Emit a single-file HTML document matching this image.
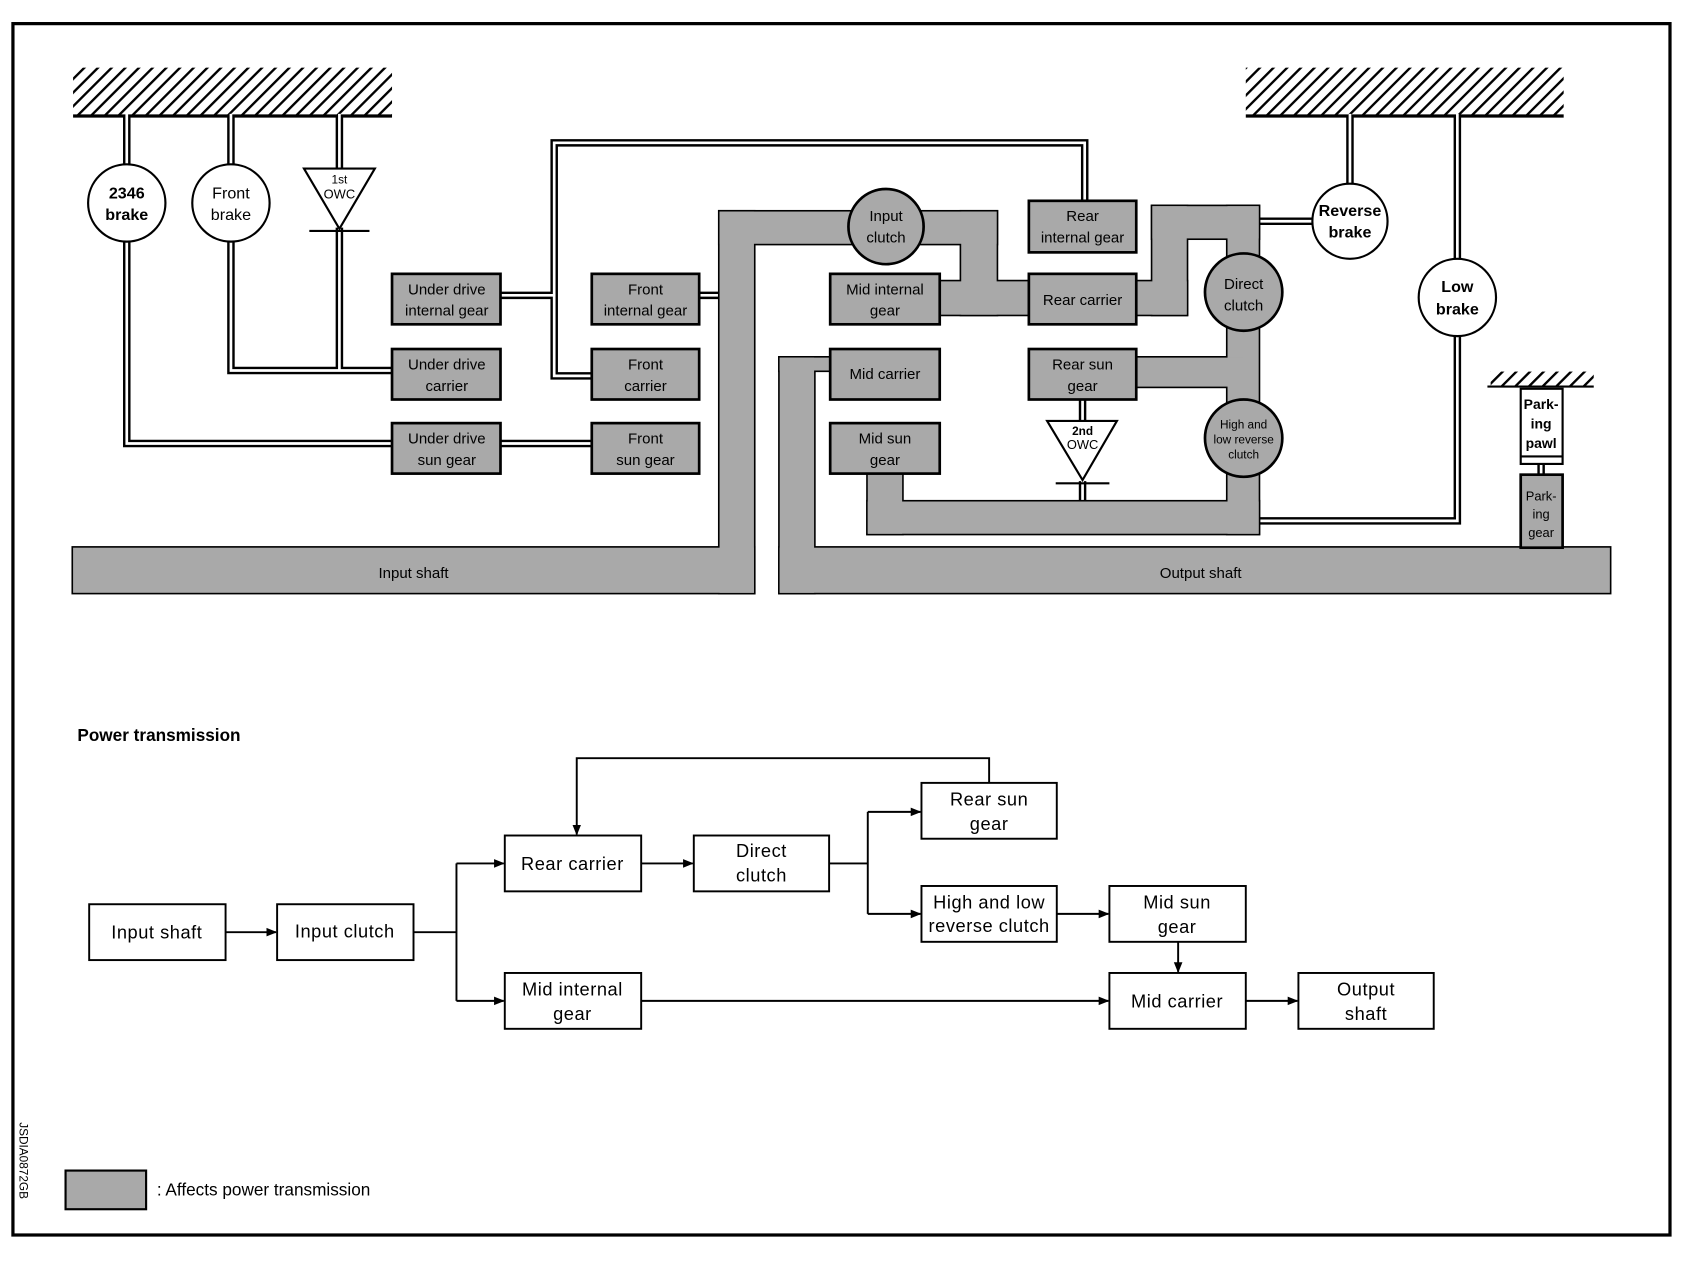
<!DOCTYPE html>
<html><head><meta charset="utf-8"><style>html,body{margin:0;padding:0;background:#fff}svg{display:block}</style></head>
<body>
<svg width="1684" height="1264" viewBox="0 0 1568 1177" xmlns="http://www.w3.org/2000/svg" font-family="Liberation Sans, sans-serif">
<defs>
<pattern id="h" width="9" height="9" patternUnits="userSpaceOnUse" patternTransform="rotate(45)">
<rect width="9" height="9" fill="#fff"/><rect width="2.2" height="9" fill="#000"/></pattern>
<marker id="a" markerWidth="10" markerHeight="10" refX="9" refY="5" orient="auto" markerUnits="userSpaceOnUse"><path d="M0,1 L10,5 L0,9 z" fill="#000"/></marker>
</defs>
<rect x="12" y="22" width="1543" height="1128" fill="#fff" stroke="#000" stroke-width="3"/>
<rect x="68" y="63" width="297" height="44" fill="url(#h)"/><line x1="68" y1="108" x2="365" y2="108" stroke="#000" stroke-width="3"/>
<rect x="1160" y="63" width="296" height="44" fill="url(#h)"/><line x1="1160" y1="108" x2="1456" y2="108" stroke="#000" stroke-width="3"/>
<rect x="1388" y="346" width="96" height="13" fill="url(#h)"/><line x1="1385" y1="360" x2="1484" y2="360" stroke="#000" stroke-width="2"/>
<g fill="none" stroke-linejoin="miter">
<g stroke="#000" stroke-width="7">
<path d="M118,108V160 M215,108V160 M316,108V160 M316,212V345 M215,220V345H370 M118,220V413H370 M462,413H555 M462,275H516V133H1010V190 M516,275V350H555 M648,275H675 M1257,108V175 M1172,206H1225 M1357,108V245 M1357,310V485H1170 M1008,370V395 M1008,448V470 M1435,432V444"/>
</g>
<g stroke="#fff" stroke-width="2.5">
<path d="M118,106V162 M215,106V162 M316,106V162 M316,212V345 M215,220V345H372 M118,220V413H372 M460,413H557 M460,275H516V133H1010V192 M516,275V350H557 M646,275H677 M1257,106V177 M1170,206H1227 M1357,106V247 M1357,310V485H1168 M1008,368V397 M1008,446V472 M1435,430V446"/>
</g>
</g>
<g fill="#a9a9a9" stroke="#000" stroke-width="3">
<rect x="68" y="510" width="634" height="42"/>
<rect x="670" y="197" width="32" height="355"/>
<rect x="670" y="197" width="258" height="30"/>
<rect x="895" y="197" width="33" height="96"/>
<rect x="875" y="262" width="85" height="31"/>
<rect x="1058" y="262" width="47" height="31"/>
<rect x="1073" y="192" width="32" height="101"/>
<rect x="1073" y="192" width="99" height="30"/>
<rect x="1143" y="192" width="29" height="305"/>
<rect x="808" y="467" width="364" height="30"/>
<rect x="808" y="436" width="32" height="61"/>
<rect x="1058" y="333" width="100" height="27"/>
<rect x="726" y="510" width="773" height="42"/>
<rect x="726" y="333" width="32" height="219"/>
<rect x="726" y="333" width="52" height="12"/>
</g>
<g fill="#a9a9a9" stroke="none">
<rect x="68" y="510" width="634" height="42"/>
<rect x="670" y="197" width="32" height="355"/>
<rect x="670" y="197" width="258" height="30"/>
<rect x="895" y="197" width="33" height="96"/>
<rect x="875" y="262" width="85" height="31"/>
<rect x="1058" y="262" width="47" height="31"/>
<rect x="1073" y="192" width="32" height="101"/>
<rect x="1073" y="192" width="99" height="30"/>
<rect x="1143" y="192" width="29" height="305"/>
<rect x="808" y="467" width="364" height="30"/>
<rect x="808" y="436" width="32" height="61"/>
<rect x="1058" y="333" width="100" height="27"/>
<rect x="726" y="510" width="773" height="42"/>
<rect x="726" y="333" width="32" height="219"/>
<rect x="726" y="333" width="52" height="12"/>
</g>
<g fill="#a9a9a9" stroke="#000" stroke-width="2.5">
<rect x="365" y="255" width="101" height="47"/>
<rect x="551" y="255" width="100" height="47"/>
<rect x="365" y="325" width="101" height="47"/>
<rect x="551" y="325" width="100" height="47"/>
<rect x="365" y="394" width="101" height="47"/>
<rect x="551" y="394" width="100" height="47"/>
<rect x="773" y="255" width="102" height="47"/>
<rect x="958" y="187" width="100" height="48"/>
<rect x="958" y="255" width="100" height="47"/>
<rect x="773" y="325" width="102" height="47"/>
<rect x="958" y="325" width="100" height="47"/>
<rect x="773" y="394" width="102" height="47"/>
<rect x="1416" y="442" width="39" height="68"/>
<circle cx="825" cy="211" r="35"/>
<circle cx="1158" cy="272" r="36"/>
<circle cx="1158" cy="408" r="36"/>
</g>
<g fill="#fff" stroke="#000" stroke-width="2">
<circle cx="118" cy="189" r="36"/><circle cx="215" cy="189" r="36"/>
<circle cx="1257" cy="206" r="35"/><circle cx="1357" cy="277" r="36"/>
<rect x="1416" y="362" width="39" height="70"/><line x1="1416" y1="425" x2="1455" y2="425"/>
<path d="M283,157H349L316,213Z"/><path d="M975,392H1040L1008,447Z"/>
</g>
<line x1="288" y1="215" x2="344" y2="215" stroke="#000" stroke-width="2"/>
<line x1="983" y1="450" x2="1033" y2="450" stroke="#000" stroke-width="2"/>
<g font-size="14" text-anchor="middle" fill="#000">
<text x="118" y="185" font-weight="bold" font-size="15">2346</text><text x="118" y="205" font-weight="bold" font-size="15">brake</text>
<text x="215" y="185" font-size="15">Front</text><text x="215" y="205" font-size="15">brake</text>
<text x="316" y="171" font-size="11">1st</text><text x="316" y="185" font-size="12">OWC</text>
<text x="1008" y="405" font-size="11" font-weight="bold">2nd</text><text x="1008" y="418" font-size="12">OWC</text>
<text x="1257" y="201" font-weight="bold" font-size="15">Reverse</text><text x="1257" y="221" font-weight="bold" font-size="15">brake</text>
<text x="1357" y="272" font-weight="bold" font-size="15">Low</text><text x="1357" y="293" font-weight="bold" font-size="15">brake</text>
<text x="1435" y="381" font-size="13" font-weight="bold">Park-</text><text x="1435" y="399" font-size="13" font-weight="bold">ing</text><text x="1435" y="417" font-size="13" font-weight="bold">pawl</text>
<text x="1435" y="466" font-size="12">Park-</text><text x="1435" y="483" font-size="12">ing</text><text x="1435" y="500" font-size="12">gear</text>
<text x="416" y="274">Under drive</text><text x="416" y="294">internal gear</text>
<text x="601" y="274">Front</text><text x="601" y="294">internal gear</text>
<text x="416" y="344">Under drive</text><text x="416" y="364">carrier</text>
<text x="601" y="344">Front</text><text x="601" y="364">carrier</text>
<text x="416" y="413">Under drive</text><text x="416" y="433">sun gear</text>
<text x="601" y="413">Front</text><text x="601" y="433">sun gear</text>
<text x="825" y="206">Input</text><text x="825" y="226">clutch</text>
<text x="824" y="274">Mid internal</text><text x="824" y="294">gear</text>
<text x="1008" y="206">Rear</text><text x="1008" y="226">internal gear</text>
<text x="1008" y="284">Rear carrier</text>
<text x="1158" y="269">Direct</text><text x="1158" y="289">clutch</text>
<text x="824" y="353">Mid carrier</text>
<text x="1008" y="344">Rear sun</text><text x="1008" y="364">gear</text>
<text x="824" y="413">Mid sun</text><text x="824" y="433">gear</text>
<text x="1158" y="399" font-size="11">High and</text><text x="1158" y="413" font-size="11">low reverse</text><text x="1158" y="427" font-size="11">clutch</text>
<text x="385" y="538">Input shaft</text>
<text x="1118" y="538">Output shaft</text>
</g>
<text x="72" y="690" font-size="16" font-weight="bold">Power transmission</text>
<g fill="#fff" stroke="#000" stroke-width="1.8">
<rect x="83" y="842" width="127" height="52"/><rect x="258" y="842" width="127" height="52"/>
<rect x="470" y="778" width="127" height="52"/><rect x="646" y="778" width="126" height="52"/>
<rect x="858" y="729" width="126" height="52"/><rect x="858" y="825" width="126" height="52"/>
<rect x="1033" y="825" width="127" height="52"/><rect x="470" y="906" width="127" height="52"/>
<rect x="1033" y="906" width="127" height="52"/><rect x="1209" y="906" width="126" height="52"/>
</g>
<g stroke="#000" stroke-width="1.8" fill="none">
<path d="M210,868H257" marker-end="url(#a)"/>
<path d="M385,868H425V804M425,868V932"/>
<path d="M425,804H469" marker-end="url(#a)"/><path d="M425,932H469" marker-end="url(#a)"/>
<path d="M921,729V706H537V777" marker-end="url(#a)"/>
<path d="M597,804H645" marker-end="url(#a)"/>
<path d="M772,804H808V756M808,804V851"/>
<path d="M808,756H857" marker-end="url(#a)"/><path d="M808,851H857" marker-end="url(#a)"/>
<path d="M984,851H1032" marker-end="url(#a)"/>
<path d="M1097,877V905" marker-end="url(#a)"/>
<path d="M597,932H1032" marker-end="url(#a)"/>
<path d="M1160,932H1208" marker-end="url(#a)"/>
</g>
<g font-size="17" text-anchor="middle" letter-spacing="0.5">
<text x="146" y="874">Input shaft</text><text x="321" y="873">Input clutch</text>
<text x="533" y="810">Rear carrier</text>
<text x="709" y="798">Direct</text><text x="709" y="821">clutch</text>
<text x="921" y="750">Rear sun</text><text x="921" y="773">gear</text>
<text x="921" y="846">High and low</text><text x="921" y="868">reverse clutch</text>
<text x="1096" y="846">Mid sun</text><text x="1096" y="869">gear</text>
<text x="533" y="927">Mid internal</text><text x="533" y="950">gear</text>
<text x="1096" y="938">Mid carrier</text>
<text x="1272" y="927">Output</text><text x="1272" y="950">shaft</text>
</g>
<rect x="61" y="1090" width="75" height="36" fill="#a9a9a9" stroke="#000" stroke-width="2"/>
<text x="146" y="1113" font-size="16">: Affects power transmission</text>
<text transform="translate(18,1045) rotate(90)" font-size="11">JSDIA0872GB</text>
</svg>
</body></html>
